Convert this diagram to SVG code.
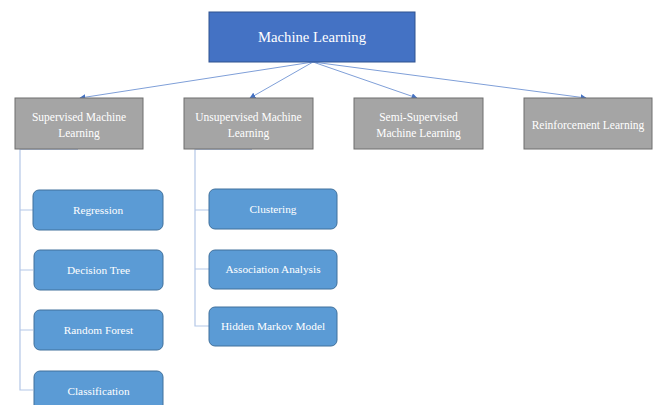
<svg xmlns="http://www.w3.org/2000/svg" width="658" height="405" viewBox="0 0 658 405">
  <defs>
    <marker id="tip" viewBox="0 0 10 10" refX="9" refY="5" markerWidth="6" markerHeight="6" orient="auto" markerUnits="userSpaceOnUse">
      <path d="M0,0 L10,5 L0,10 z" fill="#4472C4"/>
    </marker>
    <style>
      .root { fill: #4472C4; stroke: #2F528F; stroke-width: 1; }
      .cat { fill: #A5A5A5; stroke: #6E6E6E; stroke-width: 1; }
      .leaf { fill: #5B9BD5; stroke: #41719C; stroke-width: 1; }
      .t { font-family: "Liberation Serif", "Times New Roman", serif; fill: #FFFFFF; text-anchor: middle; }
      .t16 { font-size: 14.7px; }
      .t12 { font-size: 11.5px; }
      .t11 { font-size: 11.3px; }
      .link { fill: none; stroke: #7F9FD8; stroke-width: 1; }
      .tree { fill: none; stroke: #B4C7E7; stroke-width: 1.2; }
    </style>
  </defs>
  <rect width="658" height="405" fill="#FFFFFF"/>

  <!-- connectors -->
  <g id="connectors">
    <line class="link" x1="313" y1="62" x2="80" y2="98" marker-end="url(#tip)"/>
    <line class="link" x1="313" y1="62" x2="250" y2="98" marker-end="url(#tip)"/>
    <line class="link" x1="313" y1="62" x2="417" y2="98" marker-end="url(#tip)"/>
    <line class="link" x1="313" y1="62" x2="586" y2="98" marker-end="url(#tip)"/>
    <!-- supervised branch -->
    <path class="tree" d="M78,149.5 H20 V390 H33"/>
    <path class="tree" d="M20,210 H33 M20,270 H33 M20,330 H33"/>
    <!-- unsupervised branch -->
    <path class="tree" d="M252,149.5 H195 V326 H209"/>
    <path class="tree" d="M195,210 H209 M195,269 H209"/>
  </g>

  <g id="machine-learning">
    <rect class="root" x="209" y="12" width="206" height="50"/>
    <text class="t t16" x="312" y="42">Machine Learning</text>
  </g>

  <g id="supervised">
    <rect class="cat" x="15" y="98" width="128" height="51"/>
    <text class="t t12" x="79" y="121">Supervised Machine</text>
    <text class="t t12" x="79" y="137">Learning</text>
  </g>
  <g id="unsupervised">
    <rect class="cat" x="184" y="98" width="129" height="51"/>
    <text class="t t12" x="248.5" y="121">Unsupervised Machine</text>
    <text class="t t12" x="248.5" y="137">Learning</text>
  </g>
  <g id="semi-supervised">
    <rect class="cat" x="354" y="98" width="129" height="51"/>
    <text class="t t12" x="418.5" y="121">Semi-Supervised</text>
    <text class="t t12" x="418.5" y="137">Machine Learning</text>
  </g>
  <g id="reinforcement">
    <rect class="cat" x="524" y="98" width="128" height="51"/>
    <text class="t t12" x="588" y="129">Reinforcement Learning</text>
  </g>

  <g id="regression">
    <rect class="leaf" x="33" y="190" width="130" height="40" rx="6"/>
    <text class="t t11" x="98" y="214">Regression</text>
  </g>
  <g id="decision-tree">
    <rect class="leaf" x="34" y="250" width="129" height="40" rx="6"/>
    <text class="t t11" x="98.5" y="274">Decision Tree</text>
  </g>
  <g id="random-forest">
    <rect class="leaf" x="34" y="310" width="129" height="40" rx="6"/>
    <text class="t t11" x="98.5" y="334">Random Forest</text>
  </g>
  <g id="classification">
    <rect class="leaf" x="34" y="371" width="129" height="40" rx="6"/>
    <text class="t t11" x="98.5" y="395">Classification</text>
  </g>

  <g id="clustering">
    <rect class="leaf" x="209" y="189" width="128" height="40" rx="6"/>
    <text class="t t11" x="273" y="213">Clustering</text>
  </g>
  <g id="association-analysis">
    <rect class="leaf" x="209" y="250" width="128" height="39" rx="6"/>
    <text class="t t11" x="273" y="273">Association Analysis</text>
  </g>
  <g id="hidden-markov-model">
    <rect class="leaf" x="209" y="307" width="128" height="39" rx="6"/>
    <text class="t t11" x="273" y="330">Hidden Markov Model</text>
  </g>
</svg>
